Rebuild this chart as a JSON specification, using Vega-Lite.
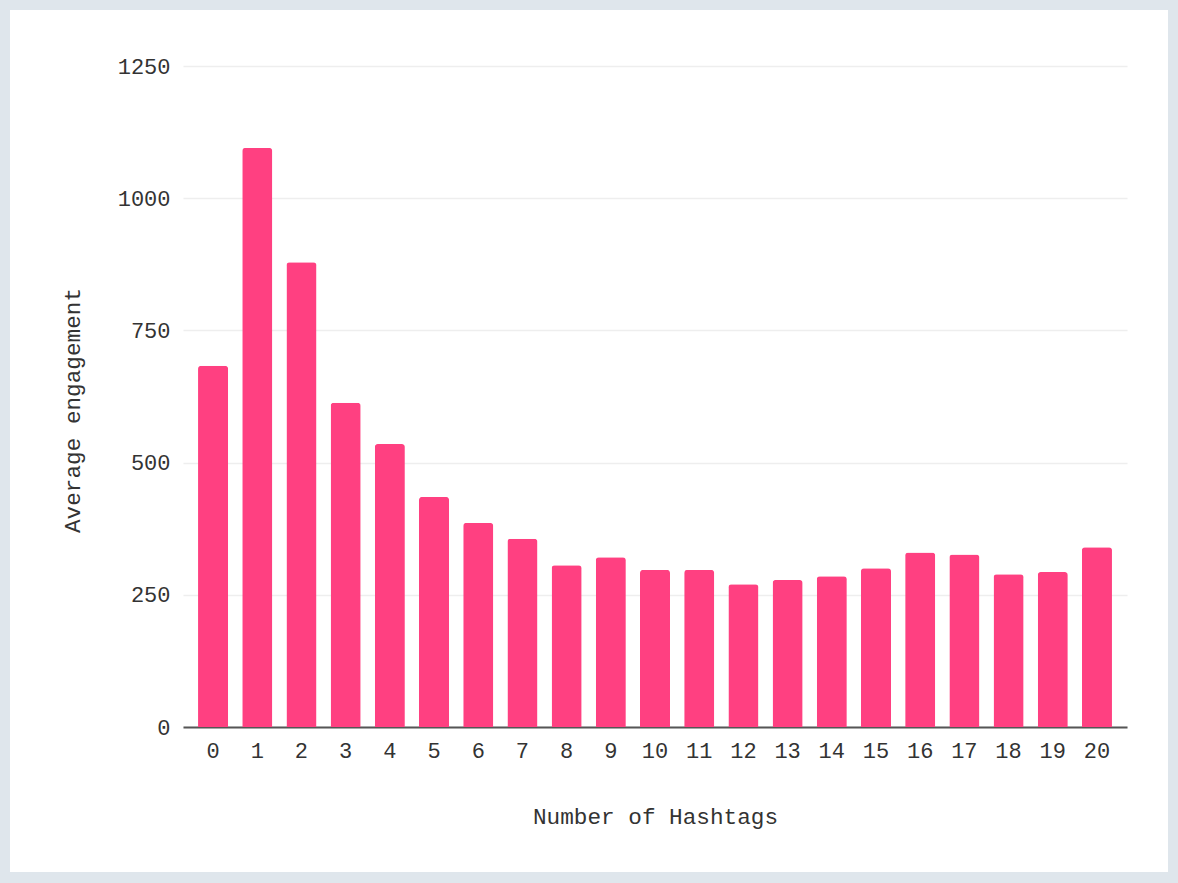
{
  "$schema": "https://vega.github.io/schema/vega-lite/v6.json",
  "width": 1158,
  "height": 862,
  "autosize": {"type": "none"},
  "padding": {"left": 10, "top": 10, "right": 10, "bottom": 11},
  "background": "#dfe6ec",
  "config": {
    "view": {"fill": "#ffffff", "stroke": null},
    "font": "Liberation Mono",
    "axis": {"labelFont": "Liberation Mono", "titleFont": "Liberation Mono", "labelFontSize": 22, "titleFontSize": 22.7, "labelColor": "#333333", "titleColor": "#333333", "titleFontWeight": "normal"}
  },
  "data": {
    "values": [
      {"hashtags": 0, "engagement": 683},
      {"hashtags": 1, "engagement": 1095},
      {"hashtags": 2, "engagement": 879},
      {"hashtags": 3, "engagement": 613},
      {"hashtags": 4, "engagement": 535},
      {"hashtags": 5, "engagement": 435},
      {"hashtags": 6, "engagement": 386},
      {"hashtags": 7, "engagement": 356},
      {"hashtags": 8, "engagement": 306},
      {"hashtags": 9, "engagement": 321},
      {"hashtags": 10, "engagement": 297},
      {"hashtags": 11, "engagement": 297},
      {"hashtags": 12, "engagement": 270},
      {"hashtags": 13, "engagement": 278},
      {"hashtags": 14, "engagement": 285},
      {"hashtags": 15, "engagement": 300},
      {"hashtags": 16, "engagement": 330},
      {"hashtags": 17, "engagement": 326},
      {"hashtags": 18, "engagement": 289},
      {"hashtags": 19, "engagement": 293},
      {"hashtags": 20, "engagement": 340}
    ]
  },
  "mark": {"type": "bar", "color": "#ff4081", "cornerRadiusTopLeft": 3, "cornerRadiusTopRight": 3},
  "encoding": {
    "x": {
      "field": "hashtags",
      "type": "ordinal",
      "title": "Number of Hashtags",
      "scale": {"range": [173, 1117], "paddingInner": 0.32, "paddingOuter": 0.34},
      "axis": {"labelAngle": 0, "offset": -145, "ticks": false, "domainColor": "#555555", "domainWidth": 2, "labelPadding": 13, "titlePadding": 44, "grid": false}
    },
    "y": {
      "field": "engagement",
      "type": "quantitative",
      "title": "Average engagement",
      "scale": {"domain": [0, 1250], "range": [717, 56], "nice": false},
      "axis": {"values": [0, 250, 500, 750, 1000, 1250], "format": "d", "offset": -173, "domain": false, "ticks": false, "labelPadding": 13, "titlePadding": 33, "titleY": 400, "gridColor": "#eeeeee", "gridWidth": 1.5}
    }
  }
}
